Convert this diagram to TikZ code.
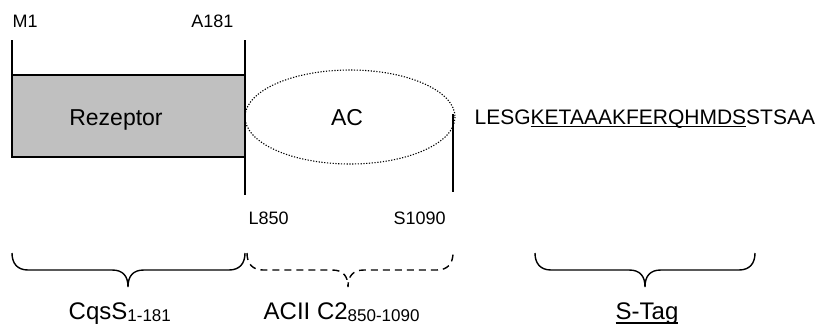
\documentclass[tikz,border=0pt]{standalone}
\usepackage{fontspec}
\setmainfont{Liberation Sans}
\definecolor{rezfill}{RGB}{192,192,192}
\newsavebox{\ulbox}

\begin{document}
\begin{tikzpicture}[x=1pt,y=-1pt,line width=1.4pt,
  poslabel/.style={font=\fontsize{18}{20}\selectfont,inner sep=0pt},
  domlabel/.style={font=\fontsize{23}{26}\selectfont,inner sep=0pt},
  seqlabel/.style={font=\fontsize{21}{24}\selectfont,inner sep=0pt},
  partlabel/.style={font=\fontsize{24}{28}\selectfont,inner sep=0pt}]

\useasboundingbox (0,0) rectangle (824,327);

% ---- layout parameters ----
\def\xM{12}       % M1, start of receptor
\def\xA{245}      % A181 / L850 border
\def\xS{453}      % S1090, end of AC
\def\yTop{40}     % top of tick lines
\def\yBoxT{75}    % receptor box top
\def\yBoxB{157}   % receptor box bottom

% Brace macro (left x, right x, tip x, style)
\newcommand{\wbrace}[4]{%
  \draw[#4] (#1,253) .. controls (#1,263) and (#1+5,270) .. (#1+16,270)
    -- (#3-16,270) .. controls (#3-5,270) and (#3,276) .. (#3,287)
    .. controls (#3,276) and (#3+5,270) .. (#3+16,270)
    -- (#2-16,270) .. controls (#2-5,270) and (#2,263) .. (#2,253);}
% lowered small index (Word style subscript)
\newcommand{\domsub}[1]{{\fontsize{17}{17}\selectfont\raisebox{-2pt}{#1}}}
% underline at a fixed depth (depth, text)
\newcommand{\ulin}[2]{\sbox{\ulbox}{#2}\rlap{\rule[-#1]{\wd\ulbox}{1.3pt}}\usebox{\ulbox}}

% ---- receptor (CqsS) ----
\fill[rezfill,draw=black] (\xM,\yBoxT) rectangle (\xA,\yBoxB);
\draw (\xM,\yTop) -- (\xM,\yBoxT);
\draw (\xA,\yTop) -- (\xA,195);
\node[domlabel,anchor=base] (rez) at (116,125) {Rezeptor};

% ---- AC domain ----
\draw[dash pattern=on 1.2pt off 1.6pt,line width=1.1pt] (350,117) ellipse [x radius=105, y radius=47];
\draw (\xS,114) -- (\xS,192);
\node[domlabel,anchor=base] (ac) at (347,125) {AC};

% residue labels
\node[poslabel,anchor=base west] (m1) at (\xM,27) {M1};
\node[poslabel,anchor=base east] (a181) at (234,27) {A181};
\node[poslabel,anchor=base west] (l850) at (248,224) {L850};
\node[poslabel,anchor=base west] (s1090) at (393,224) {S1090};

% S-tag sequence
\node[seqlabel,anchor=base west] (seq) at (474,124) {LESG\ulin{3pt}{KETAAAKFERQHMDS}STSAA};

% ---- braces ----
\wbrace{\xM}{\xA}{128}{}
\wbrace{247}{\xS}{348}{dash pattern=on 7pt off 5pt}
\wbrace{535}{755}{645}{}

\node[partlabel,anchor=base west] (cqs) at (68,319) {CqsS\domsub{1-181}};
\node[partlabel,anchor=base west] (acii) at (263,319) {ACII C2\domsub{850-1090}};
\node[partlabel,anchor=base west] (stag) at (615,319) {\ulin{4.5pt}{S-Tag}};

\end{tikzpicture}
\end{document}
